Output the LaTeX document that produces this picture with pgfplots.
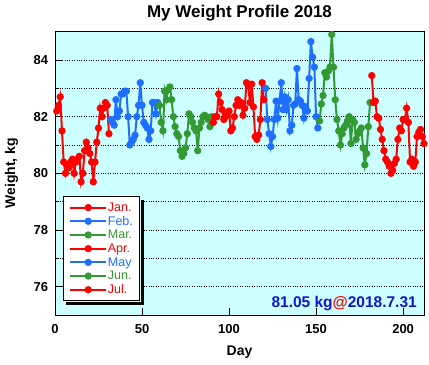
\documentclass[border=0pt]{standalone}
\usepackage{pgfplots}
\pgfplotsset{compat=1.18}
\usepackage{fontspec}
\setmainfont{Liberation Sans}
\definecolor{cred}{HTML}{FF0000}
\definecolor{cblue}{HTML}{1E6EFF}
\definecolor{cgreen}{HTML}{339933}
\definecolor{cbg}{HTML}{CCFFFF}
\definecolor{cann}{HTML}{1414CC}
\newcommand{\lstrut}{\rule[-3.3pt]{0pt}{12.6pt}}
\begin{document}
\begin{tikzpicture}
\begin{axis}[
  scale only axis,
  width=369pt, height=283.3pt,
  xmin=0, xmax=212, ymin=75, ymax=85,
  axis background/.style={fill=cbg},
  axis line style={line width=0.9pt},
  clip=false,
  xtick={0,50,100,150,200},
  ytick={76,78,80,82,84},
  minor ytick={77,79,81,83},
  xtick pos=bottom, ytick pos=left,
  tick align=inside,
  major tick length=7pt,
  minor tick length=4pt,
  tick style={black, line width=0.8pt},
  ymajorgrids, yminorgrids,
  major grid style={dotted, black, line width=0.9pt},
  minor grid style={dotted, black, line width=0.9pt},
  /pgf/number format/assume math mode=true,
  ticklabel style={font=\fontsize{13}{15}\selectfont\bfseries},
  xticklabel style={anchor=base, inner sep=0pt, yshift=-18.3pt},
  yticklabel style={anchor=east, inner sep=0pt, xshift=-6.7pt},
  title={My Weight Profile 2018},
  title style={font=\fontsize{17}{19}\selectfont\bfseries, at={(0.5,1)}, anchor=base, yshift=8.4pt},
  xlabel={Day},
  xlabel style={font=\fontsize{14}{16}\selectfont\bfseries, at={(axis description cs:0.5,0)}, anchor=base, yshift=-40.5pt},
  ylabel={Weight, kg},
  ylabel style={font=\fontsize{14}{16}\selectfont\bfseries, at={(axis description cs:0,0.5)}, anchor=center, yshift=43.5pt},
  every axis plot/.append style={line width=2pt, mark=*, mark size=2.6pt},
  legend style={name=mylegend, at={(0.021,0.42)}, anchor=north west, draw=black, line width=0.9pt, fill=white,
    font=\fontsize{12.5}{14}\selectfont, row sep=1.5pt, inner xsep=6pt, inner ysep=5pt,
    nodes={inner sep=0.7pt}},
  legend cell align=left,
  legend image code/.code={\draw[mark=none] (0pt,0pt) -- (36pt,0pt); \draw[only marks] plot coordinates {(18pt,0pt)};},
]
% Jan
\addplot[cred, mark options={fill=cred, solid}] coordinates {
(1,82.2)(2,82.4)(3,82.7)(4,81.5)(5,80.4)(6,80.0)(7,80.3)(8,80.2)(9,80.4)(10,80.5)
(11,80.0)(12,80.4)(13,80.5)(14,80.6)(15,79.7)(16,80.0)(17,80.8)(18,81.1)(19,80.9)(20,80.7)
(21,80.4)(22,79.7)(23,80.4)(24,81.1)(25,81.6)(26,82.3)(27,82.0)(28,82.3)(29,82.5)(30,82.4)(31,81.4)};
\addlegendentry{\textcolor{cred}{\lstrut Jan.}}
% Feb
\addplot[cblue, mark options={fill=cblue, solid}] coordinates {
(32,81.9)(33,81.8)(34,81.7)(35,82.6)(36,82.0)(37,82.2)(38,82.8)(39,82.8)(40,82.9)(41,82.9)
(42,82.0)(43,81.0)(44,81.1)(45,81.2)(46,81.35)(47,82.0)(48,82.4)(49,83.2)(50,82.4)(51,81.8)
(52,81.7)(53,81.6)(54,81.2)(55,81.5)(56,82.5)(57,82.5)(58,82.1)(59,82.5)};
\addlegendentry{\textcolor{cblue}{\lstrut Feb.}}
% Mar
\addplot[cgreen, mark options={fill=cgreen, solid}] coordinates {
(60,82.4)(61,81.8)(62,81.5)(63,82.9)(64,82.6)(65,82.95)(66,83.05)(67,82.6)(68,82.0)(69,81.65)
(70,81.4)(71,81.3)(72,80.8)(73,80.6)(74,80.7)(75,80.9)(76,81.4)(77,82.1)(78,82.0)(79,81.8)
(80,81.6)(81,81.5)(82,80.8)(83,81.6)(84,81.8)(85,82.0)(86,82.05)(87,82.0)(88,81.9)(89,81.65)(90,82.0)};
\addlegendentry{\textcolor{cgreen}{\lstrut Mar.}}
% Apr
\addplot[cred, mark options={fill=cred, solid}] coordinates {
(91,81.8)(92,82.0)(93,82.0)(94,82.8)(95,82.5)(96,82.25)(97,81.9)(98,82.0)(99,82.1)(100,82.2)
(101,81.5)(102,81.6)(103,82.0)(104,82.4)(105,82.6)(106,82.4)(107,82.5)(108,82.05)(109,82.3)(110,83.2)
(111,83.1)(112,82.5)(113,83.15)(114,82.35)(115,81.3)(116,81.2)(117,81.35)(118,81.9)(119,83.2)(120,82.6)};
\addlegendentry{\textcolor{cred}{\lstrut Apr.}}
% May
\addplot[cblue, mark options={fill=cblue, solid}] coordinates {
(121,83.0)(122,81.9)(123,81.4)(124,80.95)(125,81.3)(126,81.9)(127,82.55)(128,81.95)(129,82.55)(130,83.2)
(131,82.25)(132,82.7)(133,82.25)(134,82.6)(135,81.5)(136,81.7)(137,82.4)(138,82.45)(139,83.7)(140,82.6)
(141,82.55)(142,82.4)(143,81.95)(144,82.35)(145,82.2)(146,83.35)(147,84.65)(148,84.1)(149,83.75)(150,82.0)(151,81.6)};
\addlegendentry{\textcolor{cblue}{\lstrut May}}
% Jun
\addplot[cgreen, mark options={fill=cgreen, solid}] coordinates {
(152,81.85)(153,82.45)(154,82.75)(155,83.55)(156,83.4)(157,83.6)(158,83.75)(159,84.9)(160,83.75)(161,82.6)
(162,81.9)(163,81.5)(164,81.0)(165,81.4)(166,81.6)(167,81.7)(168,81.85)(169,82.0)(170,81.05)(171,81.9)
(172,81.8)(173,81.2)(174,81.4)(175,81.5)(176,81.6)(177,80.9)(178,80.3)(179,80.7)(180,81.65)(181,82.5)};
\addlegendentry{\textcolor{cgreen}{\lstrut Jun.}}
% Jul
\addplot[cred, mark options={fill=cred, solid}] coordinates {
(182,83.45)(183,82.5)(184,82.55)(185,82.0)(186,81.95)(187,81.55)(188,81.2)(189,80.8)(190,80.5)(191,80.4)
(192,80.25)(193,80.0)(194,80.1)(195,80.35)(196,80.5)(197,81.2)(198,81.6)(199,81.5)(200,81.9)(201,81.9)
(202,82.3)(203,81.8)(204,80.4)(205,80.5)(206,80.25)(207,80.4)(208,81.3)(209,81.45)(210,81.55)(211,81.3)(212,81.05)};
\addlegendentry{\textcolor{cred}{\lstrut Jul.}}
\node[anchor=base east, inner sep=0pt, font=\fontsize{15.5}{17}\selectfont\bfseries] at (axis description cs:0.981,0.027)
  {\textcolor{cann}{81.05 kg}\textcolor{cred}{@}\textcolor{cann}{2018.7.31}};
\end{axis}
\fill[black] ([shift={(3.5pt,-3.5pt)}]mylegend.south west) rectangle ([shift={(3.5pt,-0.45pt)}]mylegend.south east);
\fill[black] ([shift={(0.45pt,-3.5pt)}]mylegend.south east) rectangle ([shift={(3.5pt,-3.5pt)}]mylegend.north east);
\pgfresetboundingbox
\path ([shift={(-55pt,-49pt)}]current axis.south west) rectangle ([shift={(5pt,31.7pt)}]current axis.north east);
\end{tikzpicture}
\end{document}
